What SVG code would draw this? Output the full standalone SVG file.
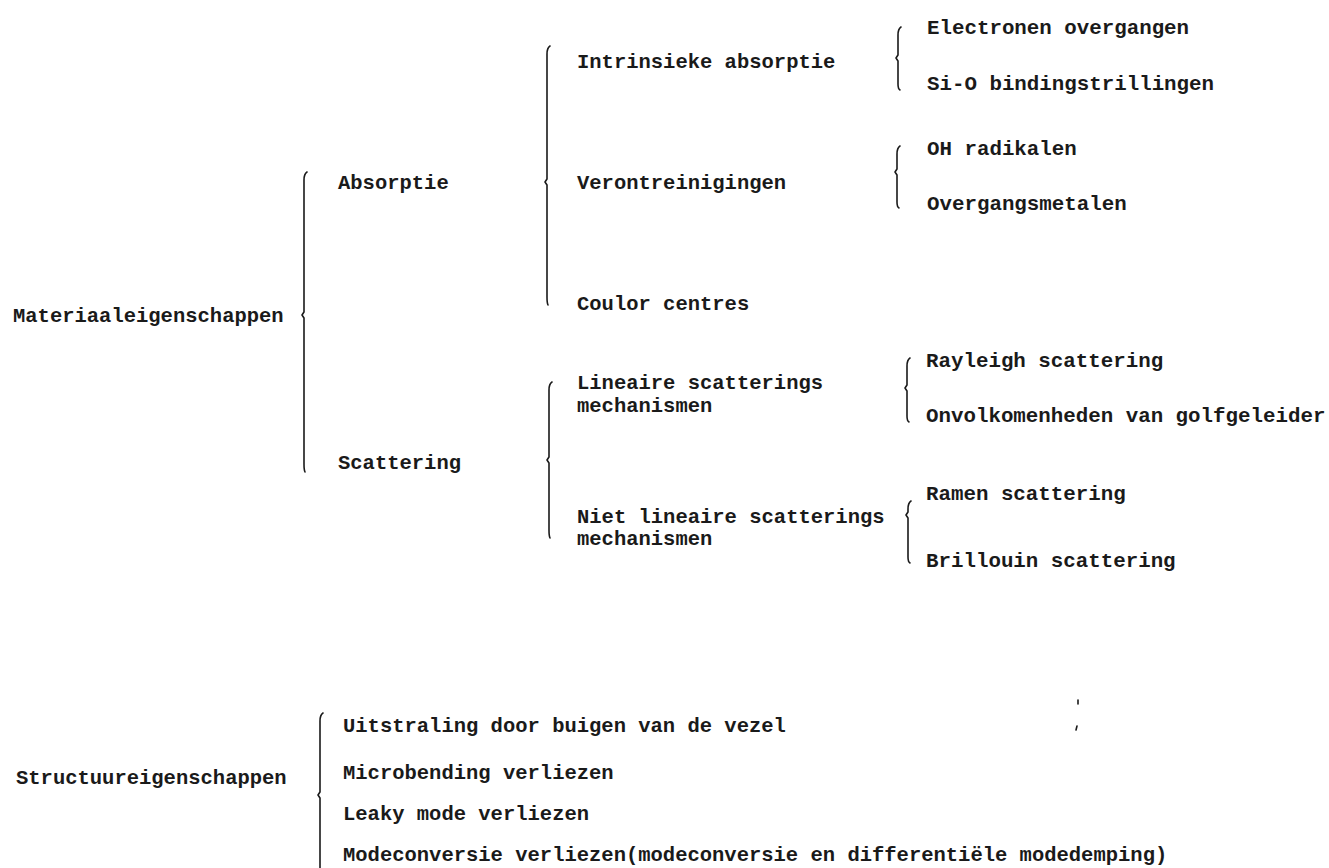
<svg xmlns="http://www.w3.org/2000/svg" width="1329" height="868" viewBox="0 0 1329 868">
<style>
text{font-family:"Liberation Mono","DejaVu Sans Mono",monospace;font-size:20.5px;font-weight:bold;fill:#1a1a1a}
.r{font-size:20.8px}
.br{fill:none;stroke:#1a1a1a;stroke-width:1.6;stroke-linecap:round;stroke-linejoin:round}
</style>
<rect width="1329" height="868" fill="#ffffff"/>
<g id="connectors">
<path class="br" d="M307,172 Q304,174 304,180 L304,312 L302,315 L304,318 L304,464 Q304,470 305,472"/>
<path class="br" d="M550,46 Q547,48 547,54 L547,179 L545,182 L547,185 L547,297 Q547,303 548,305"/>
<path class="br" d="M552,382 Q549,384 549,390 L549,457 L547,460 L549,463 L549,530 Q549,536 550,538"/>
<path class="br" d="M901,27 Q898,29 898,35 L898,55 L896,58 L898,61 L898,84 Q898,89 900,90"/>
<path class="br" d="M900,146 Q897,148 897,154 L897,169 L895,172 L897,175 L897,202 Q897,207 899,208"/>
<path class="br" d="M910,358 Q907,360 907,366 L907,385 L905,388 L907,391 L907,416 Q907,421 909,422"/>
<path class="br" d="M911,501 Q908,503 908,509 L908,512 L906,515 L908,518 L908,557 Q908,562 910,563"/>
<path class="br" d="M323,713 Q320,715 320,721 L320,792 L318,795 L320,798 L320,868"/>
<path class="br" d="M1078,700 L1078,704"/>
<path class="br" d="M1077,726 L1076,730"/>
</g>
<g id="materiaaleigenschappen"><text x="13" y="322">Materiaaleigenschappen</text></g>
<g id="absorptie"><text x="338" y="189">Absorptie</text></g>
<g id="scattering"><text x="338" y="469">Scattering</text></g>
<g id="intrinsieke-absorptie"><text x="577" y="68">Intrinsieke absorptie</text></g>
<g id="verontreinigingen"><text x="577" y="189">Verontreinigingen</text></g>
<g id="coulor-centres"><text x="577" y="310">Coulor centres</text></g>
<g id="lineaire"><text x="577" y="389">Lineaire scatterings</text><text x="577" y="412">mechanismen</text></g>
<g id="niet-lineaire"><text x="577" y="523">Niet lineaire scatterings</text><text x="577" y="545">mechanismen</text></g>
<g id="electronen"><text class="r" x="927" y="34">Electronen overgangen</text></g>
<g id="si-o"><text class="r" x="927" y="90">Si-O bindingstrillingen</text></g>
<g id="oh"><text class="r" x="927" y="155">OH radikalen</text></g>
<g id="overgangsmetalen"><text class="r" x="927" y="210">Overgangsmetalen</text></g>
<g id="rayleigh"><text class="r" x="926" y="367">Rayleigh scattering</text></g>
<g id="onvolkomenheden"><text class="r" x="926" y="422">Onvolkomenheden van golfgeleider</text></g>
<g id="ramen"><text class="r" x="926" y="500">Ramen scattering</text></g>
<g id="brillouin"><text class="r" x="926" y="567">Brillouin scattering</text></g>
<g id="structuureigenschappen"><text x="16" y="784">Structuureigenschappen</text></g>
<g id="uitstraling"><text x="343" y="732">Uitstraling door buigen van de vezel</text></g>
<g id="microbending"><text x="343" y="779">Microbending verliezen</text></g>
<g id="leaky"><text x="343" y="820">Leaky mode verliezen</text></g>
<g id="modeconversie"><text x="343" y="861">Modeconversie verliezen(modeconversie en differentiële modedemping)</text></g>
</svg>
